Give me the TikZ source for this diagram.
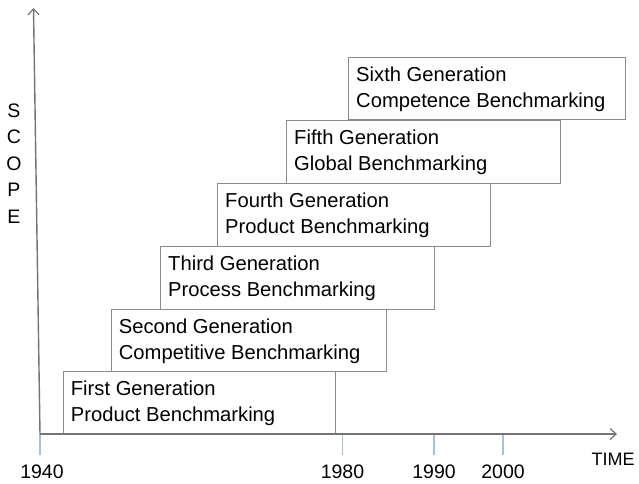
\documentclass[tikz,border=0pt]{standalone}
\usepackage{fontspec}
\setmainfont{Liberation Sans}
\usetikzlibrary{arrows.meta,calc}
\definecolor{boxgray}{RGB}{140,140,140}
\definecolor{axisgray}{RGB}{115,115,115}
\definecolor{tickblue}{RGB}{170,192,218}
\begin{document}
\begin{tikzpicture}[x=1pt,y=-1pt,
  genbox/.style={draw=boxgray, line width=1.4pt, inner sep=0pt, anchor=north west},
  lbl/.style={anchor=base west, inner sep=0pt, font=\fontsize{20.2}{24}\selectfont, text=black},
  yr/.style={anchor=base, inner sep=0pt, font=\fontsize{19.5}{23}\selectfont, text=black},
  axisline/.style={draw=axisgray, line width=1.4pt, -{Straight Barb[length=6pt,width=11pt,line width=1.2pt]}},
  tickline/.style={draw=tickblue, line width=1.2pt}]
\useasboundingbox (0,0) rectangle (639,483);
% boxes
\node[genbox, minimum width=272.3pt, minimum height=63pt] (g1) at (62.7,371) {};
\node[genbox, minimum width=275.3pt, minimum height=62pt] (g2) at (110.7,309) {};
\node[genbox, minimum width=274pt, minimum height=63pt] (g3) at (160,246) {};
\node[genbox, minimum width=273pt, minimum height=63pt] (g4) at (217,183) {};
\node[genbox, minimum width=274pt, minimum height=63pt] (g5) at (286,120) {};
\node[genbox, minimum width=277pt, minimum height=62pt] (g6) at (348,57) {};
% texts
\node[lbl] (t1a) at ($(g1.north west)+(8,24)$) {First Generation};
\node[lbl] (t1b) at ($(g1.north west)+(8,50.5)$) {Product Benchmarking};
\node[lbl] (t2a) at ($(g2.north west)+(8,24)$) {Second Generation};
\node[lbl] (t2b) at ($(g2.north west)+(8,50.5)$) {Competitive Benchmarking};
\node[lbl] (t3a) at ($(g3.north west)+(8,24)$) {Third Generation};
\node[lbl] (t3b) at ($(g3.north west)+(8,50.5)$) {Process Benchmarking};
\node[lbl] (t4a) at ($(g4.north west)+(8,24)$) {Fourth Generation};
\node[lbl] (t4b) at ($(g4.north west)+(8,50.5)$) {Product Benchmarking};
\node[lbl] (t5a) at ($(g5.north west)+(8,24)$) {Fifth Generation};
\node[lbl] (t5b) at ($(g5.north west)+(8,50.5)$) {Global Benchmarking};
\node[lbl] (t6a) at ($(g6.north west)+(8,24)$) {Sixth Generation};
\node[lbl] (t6b) at ($(g6.north west)+(8,50.5)$) {Competence Benchmarking};
% ticks
\coordinate (k1) at (40,434);  \coordinate (k1e) at (40,455);
\coordinate (k2) at (342.7,434); \coordinate (k2e) at (342.7,455);
\coordinate (k3) at (434,434); \coordinate (k3e) at (434,455);
\coordinate (k4) at (503,434); \coordinate (k4e) at (503,455);
\draw[tickline] (k1) -- (k1e);
\draw[tickline] (k2) -- (k2e);
\draw[tickline] (k3) -- (k3e);
\draw[tickline] (k4) -- (k4e);
% axes
\coordinate (o) at (40,434);
\coordinate (ytop) at (33.5,8);
\coordinate (xend) at (617,434);
\draw[axisline] (o) -- (ytop);
\draw[axisline] (o) -- (xend);
% labels
\node[yr] (l1940) at (42,478) {1940};
\node[yr] (l1980) at (342.5,478) {1980};
\node[yr] (l1990) at (434,478) {1990};
\node[yr] (l2000) at (503,478) {2000};
\node[yr, font=\fontsize{18}{22}\selectfont] (ltime) at (613,465) {TIME};
\node[yr] (s1) at (14,117) {S};
\node[yr] (s2) at (14,143.5) {C};
\node[yr] (s3) at (14,170) {O};
\node[yr] (s4) at (14,196.5) {P};
\node[yr] (s5) at (14,223) {E};
\end{tikzpicture}
\end{document}
